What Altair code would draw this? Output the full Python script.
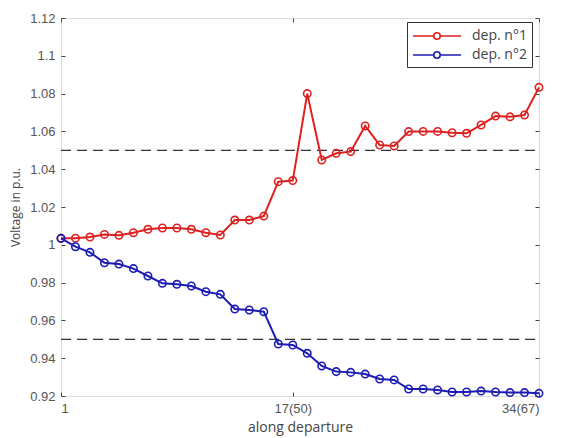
import altair as alt
import pandas as pd

x_pos = list(range(1, 35))
dep1 = [1.0034, 1.0035, 1.0041, 1.0055, 1.0050, 1.0064, 1.0082, 1.0089, 1.0089, 1.0082,
        1.0064, 1.0052, 1.0131, 1.0131, 1.0152, 1.0334, 1.0340, 1.0800, 1.0449, 1.0484,
        1.0493, 1.0629, 1.0528, 1.0523, 1.0599, 1.0600, 1.0600, 1.0593, 1.0590, 1.0634,
        1.0681, 1.0677, 1.0687, 1.0833]
dep2 = [1.0034, 0.9990, 0.9960, 0.9905, 0.9898, 0.9874, 0.9835, 0.9796, 0.9791, 0.9782,
        0.9752, 0.9738, 0.9660, 0.9655, 0.9646, 0.9475, 0.9470, 0.9426, 0.9359, 0.9329,
        0.9325, 0.9316, 0.9290, 0.9285, 0.9237, 0.9237, 0.9232, 0.9221, 0.9221, 0.9226,
        0.9221, 0.9218, 0.9218, 0.9214]
series_names = ["dep. n°1", "dep. n°2"]
series_colors = ["#dd2020", "#1c1cb4"]
limits = [1.05, 0.95]
x_ticks = [1, 17, 34]
x_tick_labels = ["1", "17(50)", "34(67)"]
y_ticks = [0.92, 0.94, 0.96, 0.98, 1.0, 1.02, 1.04, 1.06, 1.08, 1.1, 1.12]

df = pd.DataFrame({
    "x": x_pos * 2,
    "v": dep1 + dep2,
    "s": [series_names[0]] * len(dep1) + [series_names[1]] * len(dep2),
})
lim_df = pd.DataFrame({"level": limits, "x0": [x_pos[0]] * 2, "x1": [x_pos[-1]] * 2})

xdom = [x_pos[0], x_pos[-1]]
ydom = [0.92, 1.12]

label_map = "{" + ",".join(f"'{t}':'{l}'" for t, l in zip(x_ticks, x_tick_labels)) + "}"

lab_font = "Liberation Sans"
ttl_font = "Open Sans"

# legend glyph: line with a hollow circle in the middle (units of 8px, centre at x=2)
sym_path = ("M-1,0L1.6,0M2.4,0A0.4,0.4 0 1,1 1.6,0A0.4,0.4 0 1,1 2.4,0"
            "M2.4,0L5,0")

main = alt.Chart(df).mark_line(
    strokeWidth=2,
    point=alt.OverlayMarkDef(filled=False, size=55, strokeWidth=1.6),
).encode(
    x=alt.X("x:Q", scale=alt.Scale(domain=xdom, nice=False, zero=False),
            axis=alt.Axis(values=x_ticks, labelExpr=f"{label_map}[datum.value]",
                          title="along departure", orient="bottom",
                          offset=-4, tickSize=4, domain=False, grid=False,
                          labelPadding=6, titlePadding=5,
                          labelFont=lab_font, labelFontSize=13, labelColor="#555",
                          titleFont=ttl_font, titleFontSize=14, titleFontWeight="normal",
                          titleColor="#444", tickColor="#444")),
    y=alt.Y("v:Q", scale=alt.Scale(domain=ydom, nice=False, zero=False),
            axis=alt.Axis(values=y_ticks, format="~g", title="Voltage in p.u.",
                          orient="left", offset=-4, tickSize=4, domain=False, grid=False,
                          labelPadding=6, titlePadding=7,
                          labelFont=lab_font, labelFontSize=13, labelColor="#555",
                          titleFont=ttl_font, titleFontSize=12, titleFontWeight="normal",
                          titleColor="#444", tickColor="#444")),
    color=alt.Color("s:N", scale=alt.Scale(domain=series_names, range=series_colors),
                    legend=alt.Legend(title=None, orient="none", legendX=346, legendY=4,
                                      symbolType=sym_path, symbolSize=256,
                                      symbolStrokeWidth=1.6, symbolFillColor="transparent",
                                      labelFont=ttl_font, labelFontSize=14, labelColor="#444",
                                      strokeColor="#333", fillColor="white",
                                      padding=5, rowPadding=3, labelOffset=42)),
)

rules = alt.Chart(lim_df).mark_rule(color="#333", strokeWidth=1.2, strokeDash=[10, 6]).encode(
    x=alt.X("x0:Q", scale=alt.Scale(domain=xdom, nice=False, zero=False),
            axis=alt.Axis(values=x_ticks, labels=False, title=None, orient="top",
                          offset=-4, tickSize=4, domain=False, grid=False, tickColor="#444")),
    x2="x1:Q",
    y=alt.Y("level:Q", scale=alt.Scale(domain=ydom, nice=False, zero=False),
            axis=alt.Axis(values=y_ticks, labels=False, title=None, orient="right",
                          offset=-4, tickSize=4, domain=False, grid=False, tickColor="#444")),
)

chart = alt.layer(rules, main).resolve_scale(x="independent", y="independent").properties(
    width=478, height=378,
    autosize=alt.AutoSizeParams(type="none"),
    padding={"left": 53, "top": 10, "right": 14, "bottom": 40},
).configure_view(stroke="#444", strokeWidth=1.2).configure(background="white")

chart.save("out.html", embed_options={"renderer": "svg", "actions": False})
